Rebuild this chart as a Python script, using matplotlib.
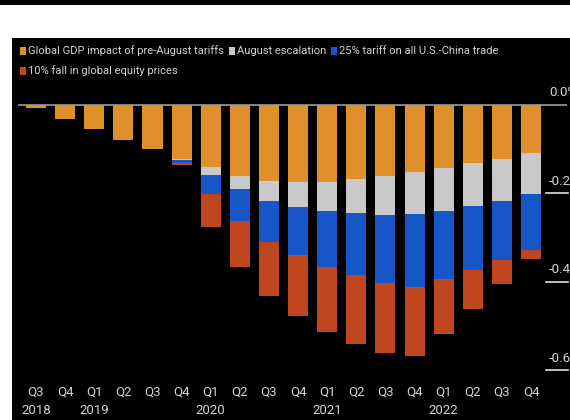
import matplotlib
matplotlib.use("Agg")
import matplotlib.pyplot as plt
from matplotlib.patches import Rectangle
import numpy as np

# Quarterly global GDP impact (percentage points), stacked by component
quarters = ["Q3", "Q4", "Q1", "Q2", "Q3", "Q4", "Q1", "Q2", "Q3", "Q4",
            "Q1", "Q2", "Q3", "Q4", "Q1", "Q2", "Q3", "Q4"]
years = {0: "2018", 2: "2019", 6: "2020", 10: "2021", 14: "2022"}

pre_august = [-0.007, -0.032, -0.056, -0.080, -0.101, -0.123, -0.140, -0.161, -0.172,
              -0.174, -0.174, -0.169, -0.161, -0.152, -0.143, -0.131, -0.122, -0.109]
august_escalation = [0, 0, 0, 0, 0, -0.002, -0.019, -0.029, -0.045,
                     -0.057, -0.066, -0.077, -0.089, -0.096, -0.097, -0.097, -0.095, -0.093]
tariff_25 = [0, 0, 0, 0, 0, -0.008, -0.044, -0.072, -0.093,
             -0.109, -0.126, -0.140, -0.154, -0.163, -0.155, -0.146, -0.134, -0.126]
equity_fall = [0, 0, 0, 0, 0, -0.004, -0.073, -0.105, -0.122,
               -0.137, -0.147, -0.155, -0.156, -0.157, -0.124, -0.088, -0.054, -0.021]

series_labels = ["Global GDP impact of pre-August tariffs", "August escalation",
                 "25% tariff on all U.S.-China trade", "10% fall in global equity prices"]
colors = ["#e0902a", "#c9c9c9", "#1656c6", "#c0461f"]

y_ticks = [0.0, -0.2, -0.4, -0.6]
y_tick_labels = ["0.0%", "-0.2%", "-0.4%", "-0.6%"]

FONT = ["Roboto", "DejaVu Sans"]
TXT = "#d2d2d2"

W, H = 570, 420
fig = plt.figure(figsize=(W / 100, H / 100), dpi=100)
fig.patch.set_facecolor("white")


def fx(px):
    return px / W


def fy(py):
    return 1 - py / H


# frame: thin black strip on top, black panel below the white band
fig.patches.append(Rectangle((0, fy(5)), 1, 5 / H, transform=fig.transFigure,
                             facecolor="black", edgecolor="none", zorder=-2))
fig.patches.append(Rectangle((fx(12), 0), 1 - fx(12), fy(38), transform=fig.transFigure,
                             facecolor="black", edgecolor="none", zorder=-2))

# plotting area in pixel terms
ax_l, ax_r, ax_t, ax_b = 18, 567, 80, 380
ax = fig.add_axes([fx(ax_l), fy(ax_b), fx(ax_r - ax_l), (ax_b - ax_t) / H])
ax.set_zorder(2)
ax.set_facecolor("black")
for s in ax.spines.values():
    s.set_visible(False)

x = np.arange(len(quarters))
step = 29.12
x0 = 36
ax.set_xlim((ax_l - x0) / step, (ax_r - x0) / step)
zero_px = 104.5
scale = 443.0
ax.set_ylim(-(ax_b - zero_px) / scale, (zero_px - ax_t) / scale)

bottom = np.zeros(len(x))
for vals, col in zip([pre_august, august_escalation, tariff_25, equity_fall], colors):
    v = np.array(vals)
    ax.bar(x, v, bottom=bottom, width=0.69, color=col, edgecolor="none", zorder=2)
    bottom = bottom + v

ax.axhline(0, color="#9a9a9a", lw=1.2, zorder=3)

# right-hand value ticks: short rule with label above it
xr0 = (546 - x0) / step
xr1 = (568 - x0) / step
for yv, lab in zip(y_ticks, y_tick_labels):
    if yv != 0:
        ax.plot([xr0, xr1], [yv, yv], color="#e0e0e0", lw=1.2, clip_on=False, zorder=3)
    ax.annotate(lab, xy=(xr0, yv), xytext=(2, 4), textcoords="offset points",
                ha="left", va="bottom", color=TXT, fontsize=9.5, family=FONT,
                annotation_clip=False)

ax.set_xticks([])
ax.set_yticks([])

# quarter ticks and labels
for i, q in enumerate(quarters):
    xp = fx(x0 + step * i)
    fig.add_artist(plt.Line2D([xp, xp], [fy(372), fy(378)], color="#bbbbbb", lw=1,
                              transform=fig.transFigure))
    fig.text(xp, fy(392), q, ha="center", va="center", color=TXT, fontsize=9.5, family=FONT)
    if i in years:
        fig.text(xp, fy(410), years[i], ha="center", va="center", color=TXT,
                 fontsize=9.5, family=FONT)

# legend
legend_pos = [(20, 51), (229, 51), (331, 51), (20, 71)]
for (lx, ly), lab, col in zip(legend_pos, series_labels, colors):
    fig.patches.append(Rectangle((fx(lx), fy(ly + 4)), 6 / W, 8 / H,
                                 transform=fig.transFigure, facecolor=col, edgecolor="none"))
    fig.text(fx(lx + 8), fy(ly), lab, ha="left", va="center", color=TXT,
             fontsize=8.0, family=FONT)

fig.savefig("out.png", dpi=100, facecolor=fig.get_facecolor())
